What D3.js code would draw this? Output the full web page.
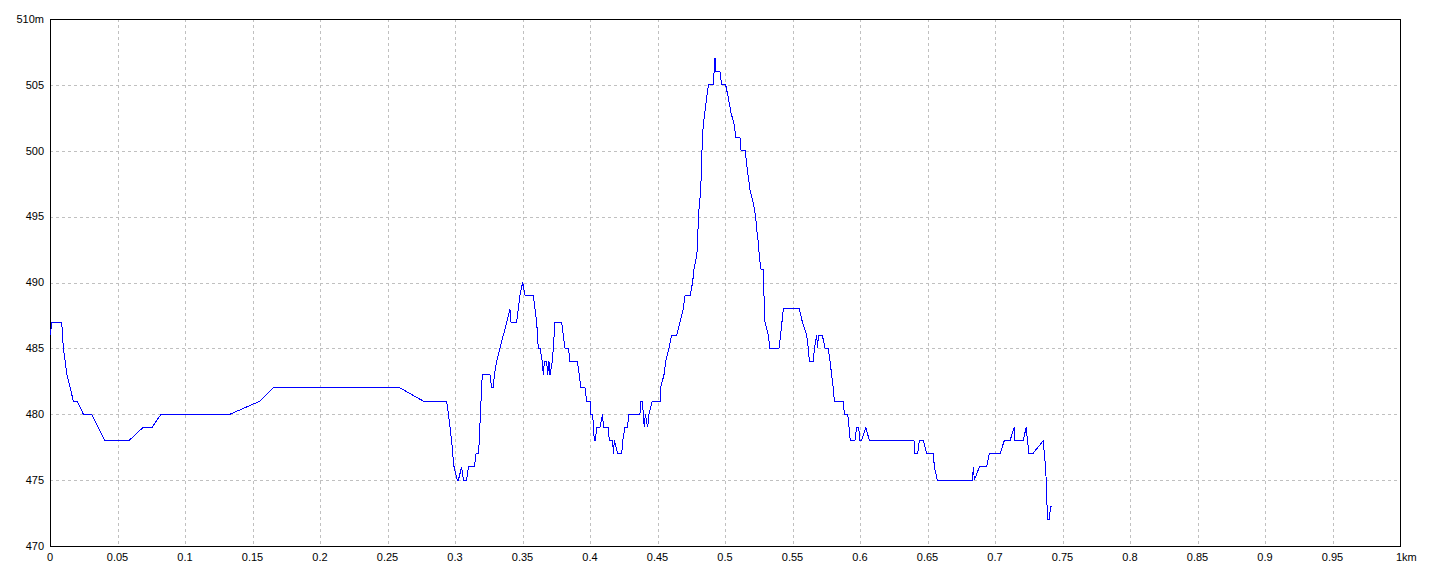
<!DOCTYPE html>
<html><head><meta charset="utf-8">
<script src="https://cdn.jsdelivr.net/npm/d3@7"></script>
<style>
body{margin:0;background:#fff}
svg{display:block}
text{font-family:"Liberation Sans",Arial,sans-serif;font-size:11px;fill:#000}
</style>
</head><body>
<svg id="chart" width="1440" height="576"></svg>
<script>
// distance along the route (km) and elevation (m)
const distKm = [
 0.0000,0.0015,0.0087,0.0099,0.0126,0.0173,0.0202,0.0247,0.0309,0.0407,0.0585,0.0689,0.0756,0.0822,0.1333,0.1556,0.1654,0.2593,0.2765,0.2938,
 0.2951,0.2963,0.2975,0.2983,0.2993,0.3017,0.3025,0.3049,0.3062,0.3086,0.3099,0.3143,0.3156,0.3173,0.3180,0.3188,0.3202,0.3259,0.3272,0.3284,
 0.3291,0.3309,0.3333,0.3358,0.3383,0.3407,0.3415,0.3444,0.3457,0.3469,0.3481,0.3501,0.3519,0.3580,0.3593,0.3605,0.3617,0.3630,0.3647,0.3654,
 0.3662,0.3679,0.3686,0.3696,0.3704,0.3721,0.3728,0.3741,0.3790,0.3802,0.3815,0.3840,0.3852,0.3906,0.3921,0.3931,0.3963,0.3975,0.3995,0.4000,
 0.4005,0.4020,0.4032,0.4040,0.4049,0.4074,0.4094,0.4099,0.4136,0.4143,0.4168,0.4173,0.4180,0.4205,0.4235,0.4242,0.4259,0.4277,0.4289,0.4370,
 0.4378,0.4388,0.4395,0.4402,0.4410,0.4427,0.4437,0.4462,0.4519,0.4523,0.4548,0.4561,0.4585,0.4605,0.4642,0.4667,0.4691,0.4704,0.4741,0.4760,
 0.4770,0.4790,0.4798,0.4802,0.4820,0.4827,0.4832,0.4840,0.4864,0.4877,0.4914,0.4919,0.4923,0.4928,0.4933,0.4963,0.4975,0.5005,0.5025,0.5042,
 0.5067,0.5081,0.5111,0.5119,0.5151,0.5160,0.5173,0.5185,0.5210,0.5227,0.5235,0.5247,0.5254,0.5267,0.5284,0.5289,0.5296,0.5321,0.5333,0.5400,
 0.5412,0.5432,0.5551,0.5573,0.5605,0.5617,0.5625,0.5654,0.5662,0.5679,0.5686,0.5691,0.5721,0.5741,0.5765,0.5778,0.5790,0.5802,0.5810,0.5877,
 0.5884,0.5909,0.5919,0.5928,0.5963,0.5975,0.5990,0.6000,0.6012,0.6044,0.6069,0.6400,0.6407,0.6427,0.6439,0.6469,0.6494,0.6543,0.6551,0.6573,
 0.6832,0.6840,0.6847,0.6884,0.6938,0.6958,0.7037,0.7069,0.7111,0.7143,0.7148,0.7210,0.7230,0.7252,0.7279,0.7358,0.7365,0.7375,0.7383,0.7388,
 0.7402,0.7412,0.7420
];
const elevM = [
 486,487,487,485,483,481,481,480,480,478,478,479,479,480,480,481,482,482,481,481,
 480,479,478,477,476,475,475,476,475,475,476,476,477,477,478,480,483,483,482,482,
 483,484,485,486,487,488,487,487,487,488,489,490,489,489,488,487,485,485,484,483,
 484,484,483,484,483,484,485,487,487,486,485,485,484,484,483,482,482,481,481,481,
 480,480,478,478,479,479,480,479,479,478,478,477,478,477,477,478,479,479,480,480,
 481,481,480,479,480,479,480,481,481,482,483,484,485,486,486,487,488,489,489,490,
 491,492,493,495,497,499,501,502,504,505,505,506,507,507,506,506,505,505,504,503,
 502,501,501,500,500,499,498,497,496,495,494,493,492,491,491,489,487,486,485,485,
 486,488,488,487,486,485,484,484,485,486,485,486,486,485,485,484,483,482,481,481,
 480,480,479,478,478,479,479,478,478,479,478,478,477,477,478,478,477,477,476,475,
 475,476,475,476,476,477,477,478,478,479,478,478,479,477,477,478,477,476,474,472,
 472,473,473
];
const xTickValues = [0,0.05,0.1,0.15,0.2,0.25,0.3,0.35,0.4,0.45,0.5,0.55,0.6,0.65,0.7,0.75,0.8,0.85,0.9,0.95,1];
const xTickLabels = ["0","0.05","0.1","0.15","0.2","0.25","0.3","0.35","0.4","0.45","0.5","0.55","0.6","0.65","0.7","0.75","0.8","0.85","0.9","0.95","1km"];
const yTickValues = [470,475,480,485,490,495,500,505,510];
const yTickLabels = ["470","475","480","485","490","495","500","505","510m"];

const svg = d3.select("#chart");
const x = d3.scaleLinear().domain([0,1]).range([50,1400]);
const y = d3.scaleLinear().domain([470,510]).range([546,19]);

// grid
const grid = svg.append("g").attr("stroke","#c0c0c0").attr("stroke-dasharray","3,3").attr("shape-rendering","crispEdges");
grid.selectAll("line.v").data(xTickValues.slice(1,-1)).join("line").attr("class","v")
  .attr("x1",d=>Math.round(x(d))+0.5).attr("x2",d=>Math.round(x(d))+0.5).attr("y1",y(510)).attr("y2",y(470));
grid.selectAll("line.h").data(yTickValues.slice(1,-1)).join("line").attr("class","h")
  .attr("y1",d=>Math.round(y(d))+0.5).attr("y2",d=>Math.round(y(d))+0.5).attr("x1",x(0)).attr("x2",x(1));

// frame
svg.append("rect").attr("x",x(0)+0.5).attr("y",y(510)+0.5).attr("width",x(1)-x(0)).attr("height",y(470)-y(510))
  .attr("fill","none").attr("stroke","#000").attr("shape-rendering","crispEdges");

// line
const pts = distKm.map((d,i)=>[d,elevM[i]]);
svg.append("path").datum(pts)
  .attr("fill","none").attr("stroke","#0000ff").attr("stroke-width",1).attr("shape-rendering","crispEdges")
  .attr("d", d3.line().x(d=>x(d[0])).y(d=>y(d[1])));

// labels
svg.append("g").selectAll("text").data(yTickValues).join("text")
  .attr("x", x(0)-6).attr("y", d=>y(d)).attr("dy","0.35em").attr("text-anchor","end")
  .text((d,i)=>yTickLabels[i]);
svg.append("g").selectAll("text").data(xTickValues).join("text")
  .attr("x", (d,i)=> i===xTickValues.length-1 ? x(d)-4 : x(d))
  .attr("y", y(470)+15)
  .attr("text-anchor",(d,i)=> i===xTickValues.length-1 ? "start" : "middle")
  .text((d,i)=>xTickLabels[i]);
</script>
</body></html>
